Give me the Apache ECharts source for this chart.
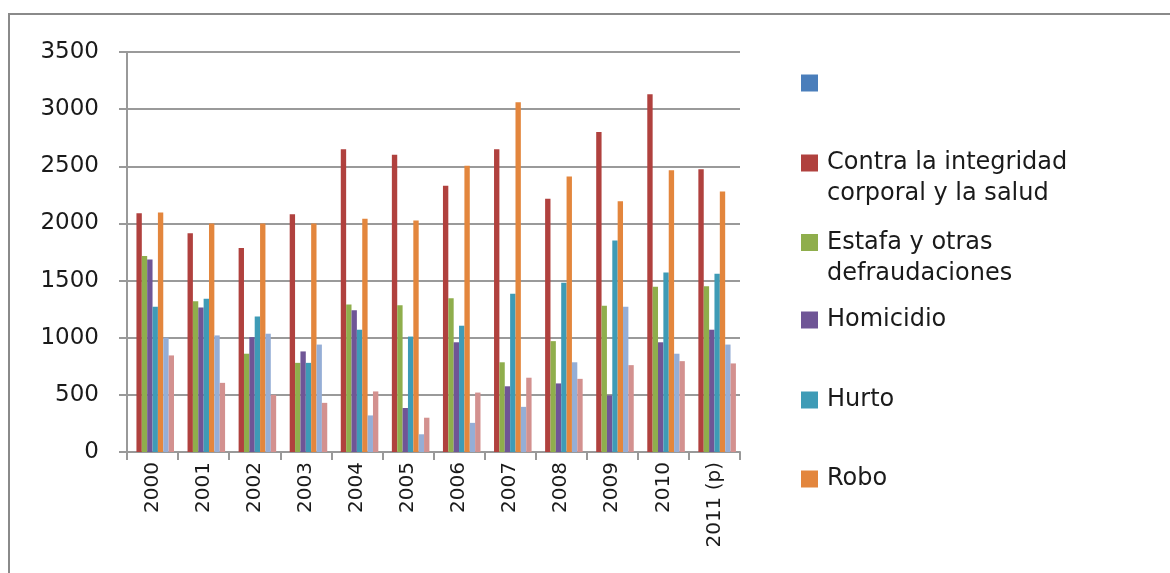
<!DOCTYPE html>
<html>
<head>
<meta charset="utf-8">
<script src="https://cdn.jsdelivr.net/npm/echarts@6/dist/echarts.min.js"></script>
<style>
html,body{margin:0;padding:0;background:#fff;}
#chart{width:1170px;height:573px;}
</style>
</head>
<body>
<div id="chart"></div>
<script>
// ---- data ----
const categories = ['2000','2001','2002','2003','2004','2005','2006','2007','2008','2009','2010','2011 (p)'];
const seriesNames = [' ', 'Contra la integridad\ncorporal y la salud', 'Estafa y otras\ndefraudaciones', 'Homicidio', 'Hurto', 'Robo', 'Serie 7', 'Serie 8'];
const blank      = [0,0,0,0,0,0,0,0,0,0,0,0];
const integridad = [2090,1915,1785,2080,2650,2600,2330,2650,2215,2800,3130,2475];
const estafa     = [1715,1320,860,780,1290,1285,1345,785,970,1280,1445,1450];
const homicidio  = [1685,1265,1005,880,1240,385,960,575,600,495,960,1070];
const hurto      = [1270,1340,1185,780,1070,1010,1105,1385,1480,1850,1570,1560];
const robo       = [2095,2000,2000,2000,2040,2025,2505,3060,2410,2195,2465,2280];
const serie7     = [1000,1020,1035,940,320,155,255,395,785,1270,860,940];
const serie8     = [845,605,500,430,530,300,520,650,640,760,795,775];
const yTicks = [0,500,1000,1500,2000,2500,3000,3500];

const seriesData = [blank, integridad, estafa, homicidio, hurto, robo, serie7, serie8];
const colors = ['#4A7EBB','#B0413E','#8FAE4C','#6F5596','#3E9BB6','#E3863D','#95AED6','#D3918F'];

// legend icon centre y positions
const legendCenters = [83, 163, 242.5, 320, 400, 479];
const LH = 31;

const chart = echarts.init(document.getElementById('chart'));

const legends = legendCenters.map((cy, i) => {
  const twoLine = seriesNames[i].indexOf('\n') >= 0;
  return {
    show: true,
    left: 801,
    top: twoLine ? cy - (3 * LH) / 2 : cy - LH / 2,
    padding: 0,
    orient: 'vertical',
    selectedMode: false,
    icon: 'rect',
    itemWidth: 17,
    itemHeight: 17,
    data: [seriesNames[i]],
    formatter: name => (twoLine ? '\n' + name : name),
    textStyle: {
      fontFamily: 'DejaVu Sans',
      fontSize: 24,
      color: '#1a1a1a',
      lineHeight: LH,
      padding: [0, 0, 0, 4]
    }
  };
});

const option = {
  animation: false,
  backgroundColor: '#ffffff',
  color: colors,
  legend: legends,
  grid: { left: 127, right: 430, top: 52, bottom: 121, containLabel: false },
  xAxis: {
    type: 'category',
    data: categories,
    axisLine: { show: true, lineStyle: { color: '#999999', width: 2 } },
    axisTick: { show: true, interval: 0, length: 8, lineStyle: { color: '#999999', width: 2 } },
    axisLabel: {
      rotate: 90, interval: 0, margin: 10,
      fontFamily: 'DejaVu Sans', fontSize: 20, color: '#1a1a1a'
    },
    splitLine: { show: false }
  },
  yAxis: {
    type: 'value',
    min: yTicks[0],
    max: yTicks[yTicks.length - 1],
    interval: 500,
    axisLine: { show: true, lineStyle: { color: '#999999', width: 2 } },
    axisTick: { show: true, length: 8, lineStyle: { color: '#999999', width: 2 } },
    axisLabel: { margin: 28, fontFamily: 'DejaVu Sans', fontSize: 23, color: '#1a1a1a', formatter: v => String(v) },
    splitLine: { show: true, lineStyle: { color: '#9a9a9a', width: 2 } }
  },
  series: seriesNames.map((n, i) => ({
    name: n,
    type: 'bar',
    data: seriesData[i],
    barGap: '0%',
    barCategoryGap: '16%',
    itemStyle: { color: colors[i] }
  })),
  graphic: [{
    type: 'rect',
    shape: { x: 9, y: 14, width: 1200, height: 620 },
    style: { fill: 'none', stroke: '#8a8a8a', lineWidth: 2 },
    silent: true
  }]
};

chart.setOption(option);
</script>
</body>
</html>
